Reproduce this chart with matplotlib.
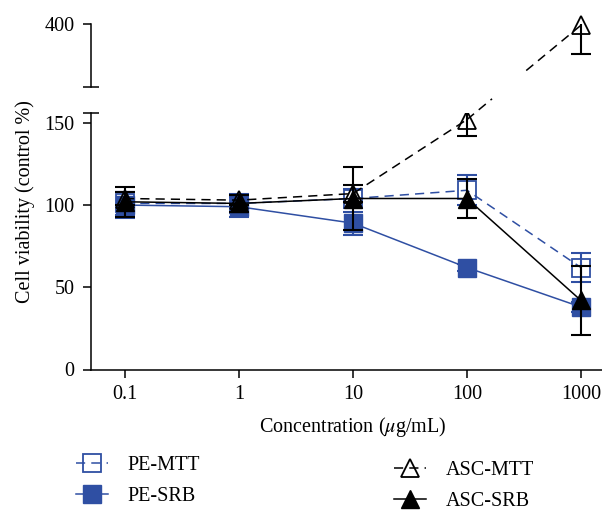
import numpy as np
import matplotlib
matplotlib.use('Agg')
import matplotlib.pyplot as plt
from matplotlib.lines import Line2D
from matplotlib.ticker import NullLocator
from matplotlib.transforms import IdentityTransform

# concentrations (ug/mL)
conc = [0.1, 1, 10, 100, 1000]
conc_labels = ['0.1', '1', '10', '100', '1000']

# cell viability (% of control) and error bars
pe_mtt = [101, 101, 104, 109, 62]
pe_mtt_err = [7, 6, 6, 9, 9]
pe_srb = [100, 99, 89, 62, 38]
pe_srb_err = [8, 6, 7, 2, 3]
asc_mtt = [104, 103, 107, 152, 398]
asc_mtt_err = [4, 3, 5, 10, 45]
asc_srb = [102, 101, 104, 104, 42]
asc_srb_err = [9, 5, 19, 12, 21]

low_lim = (0, 156)
high_lim = (300, 400)

plt.rcParams['font.family'] = ['Liberation Serif', 'DejaVu Serif']
plt.rcParams['mathtext.fontset'] = 'stix'
plt.rcParams['font.size'] = 14.5

blue = '#2f4fa3'
W, H = 602, 512

fig = plt.figure(figsize=(W / 100, H / 100), dpi=100)
ax = fig.add_axes([91 / W, 1 - 369.5 / H, 511 / W, 256.5 / H])
axt = fig.add_axes([91 / W, 1 - 87 / H, 511 / W, 63 / H])

for a in (ax, axt):
    a.set_xscale('log')
    a.set_xlim(0.0503, 1530)
    for s in ('top', 'right'):
        a.spines[s].set_visible(False)
    a.spines['left'].set_linewidth(1.1)
    a.tick_params(direction='out', length=6, width=1.1, pad=6)
    a.xaxis.set_minor_locator(NullLocator())

ax.spines['bottom'].set_linewidth(1.1)
axt.spines['bottom'].set_visible(False)
axt.tick_params(axis='x', bottom=False, labelbottom=False)

ax.set_ylim(*low_lim)
axt.set_ylim(*high_lim)
ax.set_yticks([0, 50, 100, 150])
axt.set_yticks([400])
# break marks at the ends of each y segment
ax.set_yticks([low_lim[1]], minor=True)
axt.set_yticks([high_lim[0]], minor=True)
for a in (ax, axt):
    a.tick_params(axis='y', which='minor', direction='inout', length=12, width=1.1)
ax.set_xticks(conc, conc_labels)
ax.tick_params(axis='x', pad=5)

eb = dict(fmt='none', elinewidth=1.5, capsize=7, capthick=1.5)
dash = (6, 4)

# PE series
ax.errorbar(conc, pe_mtt, yerr=pe_mtt_err, ecolor=blue, zorder=2, **eb)
ax.errorbar(conc, pe_srb, yerr=pe_srb_err, ecolor=blue, zorder=2, **eb)
h_pe_mtt, = ax.plot(conc, pe_mtt, color=blue, lw=1.1, dashes=dash, marker='s', ms=13,
                    mfc='none', mec=blue, mew=1.3, zorder=3, label='PE-MTT')
h_pe_srb, = ax.plot(conc, pe_srb, color=blue, lw=1.1, marker='s', ms=13,
                    mfc=blue, mec=blue, zorder=3, label='PE-SRB')

# ASC series (MTT at 1000 goes on the upper segment)
in_low = [v <= low_lim[1] for v in asc_mtt]
xl = [c for c, k in zip(conc, in_low) if k]
yl = [v for v, k in zip(asc_mtt, in_low) if k]
el = [e for e, k in zip(asc_mtt_err, in_low) if k]
xh = [c for c, k in zip(conc, in_low) if not k]
yh = [v for v, k in zip(asc_mtt, in_low) if not k]
eh = [e for e, k in zip(asc_mtt_err, in_low) if not k]

ax.errorbar(xl, yl, yerr=el, ecolor='black', zorder=4, **eb)
ax.errorbar(conc, asc_srb, yerr=asc_srb_err, ecolor='black', zorder=4, **eb)
h_asc_mtt, = ax.plot(xl, yl, color='black', lw=1.1, dashes=dash, marker='^', ms=13,
                     mfc='none', mec='black', mew=1.3, zorder=5, label='ASC-MTT')
h_asc_srb, = ax.plot(conc, asc_srb, color='black', lw=1.1, marker='^', ms=13,
                     mfc='black', mec='black', zorder=5, label='ASC-SRB')

axt.errorbar(xh, yh, yerr=eh, ecolor='black', zorder=4, **eb)
axt.plot(xh, yh, ls='none', marker='^', ms=13, mfc='none', mec='black', mew=1.3,
         zorder=5, clip_on=False)

# dashed connector across the axis break, drawn in display space
p0 = ax.transData.transform((xl[-1], yl[-1]))
p1 = axt.transData.transform((xh[0], yh[0]))
for t0, t1 in [(0.0, 0.22), (0.52, 1.0)]:
    q0 = p0 + (p1 - p0) * t0
    q1 = p0 + (p1 - p0) * t1
    fig.add_artist(Line2D([q0[0], q1[0]], [q0[1], q1[1]], transform=IdentityTransform(),
                          color='black', lw=1.1, dashes=dash, zorder=5))

fig.text(25 / W, 1 - 202 / H, 'Cell viability (control %)', rotation=90,
         ha='center', va='center')
fig.text(353 / W, 1 - 427 / H, r'Concentration ($\mu$g/mL)', ha='center', va='center')

leg_kw = dict(frameon=False, handlelength=1.6, handletextpad=0.95, labelspacing=0.55,
              borderpad=0, borderaxespad=0, loc='center left')
fig.legend(handles=[h_pe_mtt, h_pe_srb], bbox_to_anchor=(76 / W, 1 - 481 / H), **leg_kw)
fig.legend(handles=[h_asc_mtt, h_asc_srb], bbox_to_anchor=(394 / W, 1 - 486 / H), **leg_kw)

fig.savefig('out.png', dpi=100)
